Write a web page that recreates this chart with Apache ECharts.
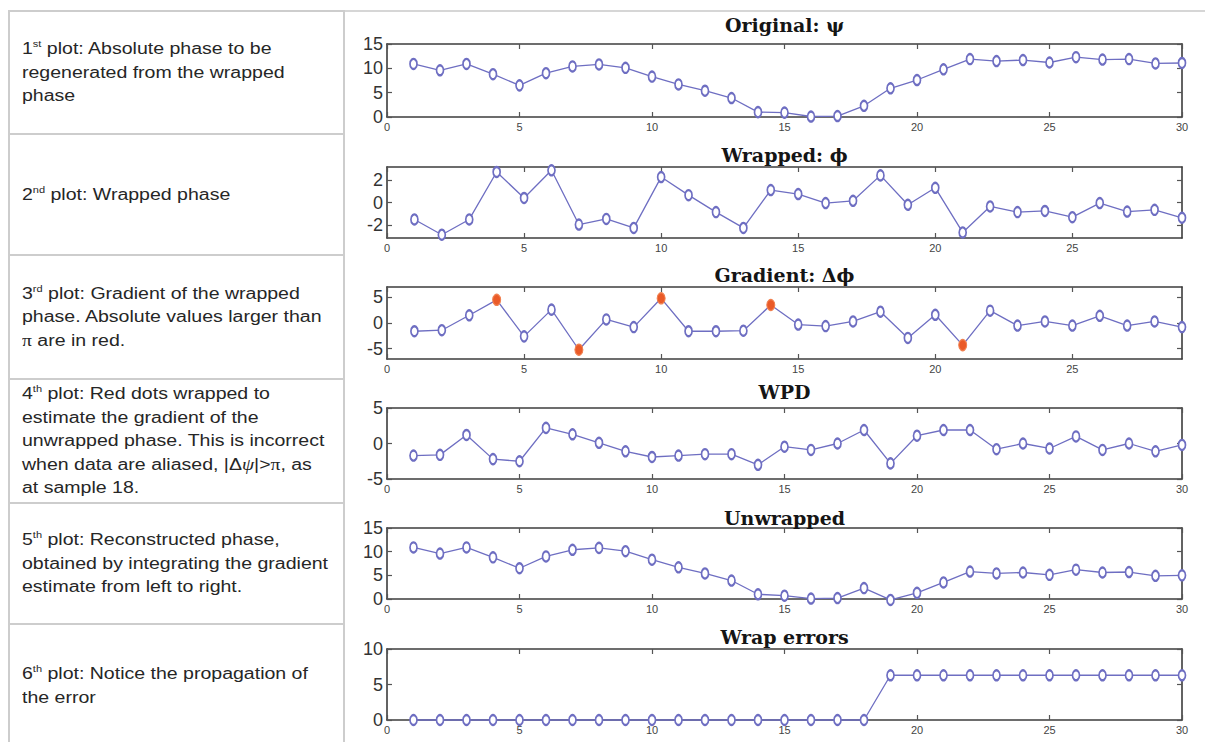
<!DOCTYPE html>
<html>
<head>
<meta charset="utf-8">
<title>Phase unwrapping</title>
<script src="https://cdn.jsdelivr.net/npm/echarts@6/dist/echarts.min.js"></script>
<style>
  html, body { margin: 0; padding: 0; background: #fff; }
  body { width: 1205px; height: 742px; position: relative; overflow: hidden; }
  .cell {
    position: absolute; left: 8px; width: 337px; box-sizing: border-box;
    border: 2px solid #cdcdcd; border-bottom: none;
    display: flex; align-items: center; padding-left: 12px;
  }
  .txt {
    font-family: "Liberation Sans", Arial, sans-serif; font-size: 16px; line-height: 23.6px;
    color: #262626; white-space: nowrap; transform: scaleX(1.22); transform-origin: 0 50%;
  }
  .txt sup { font-size: 9px; vertical-align: 7px; line-height: 0; }
  .gr { font-family: "Liberation Serif", "Times New Roman", serif; }
  .frame { position: absolute; left: 344px; top: 10px; width: 861px; border-top: 2px solid #d6d6d6; }
  #main { position: absolute; left: 346px; top: 0; width: 859px; height: 742px; }
</style>
</head>
<body>
<div class="frame"></div>
<div class="cell" style="top:10px;height:123px"><div class="txt">1<sup>st</sup> plot: Absolute phase to be<br>regenerated from the wrapped<br>phase</div></div>
<div class="cell" style="top:133px;height:121px"><div class="txt">2<sup>nd</sup> plot: Wrapped phase</div></div>
<div class="cell" style="top:254px;height:124px"><div class="txt">3<sup>rd</sup> plot: Gradient of the wrapped<br>phase. Absolute values larger than<br><span class="gr">π</span> are in red.</div></div>
<div class="cell" style="top:378px;height:124px"><div class="txt">4<sup>th</sup> plot: Red dots wrapped to<br>estimate the gradient of the<br>unwrapped phase. This is incorrect<br>when data are aliased, |Δ<i class="gr">ψ</i>|&gt;<span class="gr">π</span>, as<br>at sample 18.</div></div>
<div class="cell" style="top:502px;height:121px"><div class="txt">5<sup>th</sup> plot: Reconstructed phase,<br>obtained by integrating the gradient<br>estimate from left to right.</div></div>
<div class="cell" style="top:623px;height:124px"><div class="txt">6<sup>th</sup> plot: Notice the propagation of<br>the error</div></div>
<div id="main"></div>
<script>
  // values, one entry per sample (sample n = index + 1)
  const original = [10.9, 9.6, 10.9, 8.8, 6.5, 9.0, 10.4, 10.8, 10.1, 8.3, 6.7, 5.4, 3.9, 1.0,
    0.9, 0.1, 0.2, 2.3, 5.9, 7.6, 9.8, 11.9, 11.5, 11.7, 11.2, 12.3, 11.8, 11.9, 11.0, 11.1]
  const wrapped = [-1.5, -2.85, -1.5, 2.7, 0.4, 2.85, -1.95, -1.45, -2.25, 2.25, 0.65, -0.85, -2.25, 1.1,
    0.75, -0.05, 0.15, 2.4, -0.2, 1.3, -2.65, -0.35, -0.85, -0.75, -1.3, -0.05, -0.8, -0.65, -1.35]
  const gradient = [-1.6, -1.4, 1.5, 4.5, -2.6, 2.6, -5.2, 0.7, -0.8, 4.8, -1.6, -1.6, -1.5, 3.5,
    -0.3, -0.6, 0.3, 2.2, -2.9, 1.6, -4.3, 2.4, -0.5, 0.3, -0.5, 1.4, -0.5, 0.3, -0.8]
  const wpd = [-1.7, -1.6, 1.2, -2.2, -2.5, 2.2, 1.3, 0.1, -1.1, -1.9, -1.7, -1.5, -1.5, -3.0,
    -0.45, -0.9, 0.0, 1.9, -2.8, 1.1, 1.9, 1.9, -0.8, 0.0, -0.7, 1.0, -0.9, 0.0, -1.1, -0.2]
  const unwrapped = [10.9, 9.6, 10.9, 8.8, 6.5, 9.0, 10.4, 10.8, 10.1, 8.3, 6.7, 5.4, 3.9, 1.0,
    0.7, 0.1, 0.2, 2.3, -0.2, 1.3, 3.5, 5.8, 5.4, 5.6, 5.1, 6.2, 5.6, 5.7, 4.9, 5.0]
  const wrapErrors = [0, 0, 0, 0, 0, 0, 0, 0, 0, 0, 0, 0, 0, 0, 0, 0, 0, 0,
    6.3, 6.3, 6.3, 6.3, 6.3, 6.3, 6.3, 6.3, 6.3, 6.3, 6.3, 6.3]

  const titles = ['Original: ψ', 'Wrapped: ϕ', 'Gradient: Δϕ', 'WPD', 'Unwrapped', 'Wrap errors']
  const seriesList = [original, wrapped, gradient, wpd, unwrapped, wrapErrors]
  const yMin = [0, -Math.PI, -7, -5, 0, 0]
  const yMax = [15, Math.PI, 7, 5, 15, 10]
  const yTicks = [[0, 5, 10, 15], [-2, 0, 2], [-5, 0, 5], [-5, 0, 5], [0, 5, 10, 15], [0, 5, 10]]
  const xMax = [30, 29, 29, 30, 30, 30]
  const xTicks = [0, 5, 10, 15, 20, 25, 30]

  // layout of the six panels (px inside #main)
  const gridTops = [44, 167, 287, 408, 528, 649]
  const gridHeights = [73, 71, 72, 71, 71, 71]
  const titleCenters = [25, 155, 275, 392, 518, 637]
  const plotLeft = 41
  const plotWidth = 795

  const lineColor = '#6e6ec2'
  const redColor = '#ea5a28'
  const boxColor = '#3c3c3c'

  let chart = echarts.init(document.getElementById('main'), null, { renderer: 'svg' })

  let grid = []
  let xAxis = []
  let yAxis = []
  let series = []
  let title = []

  seriesList.forEach((values, i) => {
    grid.push({ left: plotLeft, top: gridTops[i], width: plotWidth, height: gridHeights[i] })
    title.push({
      text: titles[i],
      left: plotLeft + plotWidth / 2,
      top: titleCenters[i] - 11,
      textAlign: 'center',
      padding: 0,
      textStyle: { fontFamily: 'DejaVu Serif', fontWeight: 'bold', fontSize: 19, lineHeight: 22, color: '#151515' },
    })
    let xt = xTicks.filter(v => v <= xMax[i])
    let box = { show: true, onZero: false, lineStyle: { color: boxColor, width: 1.6 } }
    let tick = { show: true, inside: true, length: 5, lineStyle: { color: '#555', width: 1.2 } }
    xAxis.push({
      type: 'value', gridIndex: i, min: 0, max: xMax[i], position: 'bottom',
      axisLine: box,
      axisTick: Object.assign({}, tick, { customValues: xt }),
      axisLabel: { customValues: xt, fontSize: 11, color: '#444', margin: 4, fontFamily: 'Liberation Sans' },
      splitLine: { show: false },
    })
    xAxis.push({
      type: 'value', gridIndex: i, min: 0, max: xMax[i], position: 'top',
      axisLine: box,
      axisTick: Object.assign({}, tick, { customValues: xt }),
      axisLabel: { show: false },
      splitLine: { show: false },
    })
    yAxis.push({
      type: 'value', gridIndex: i, min: yMin[i], max: yMax[i], position: 'left',
      axisLine: box,
      axisTick: Object.assign({}, tick, { customValues: yTicks[i] }),
      axisLabel: { customValues: yTicks[i], fontSize: 18, color: '#333', margin: 4, fontFamily: 'Liberation Sans' },
      splitLine: { show: false },
    })
    yAxis.push({
      type: 'value', gridIndex: i, min: yMin[i], max: yMax[i], position: 'right',
      axisLine: box,
      axisTick: Object.assign({}, tick, { customValues: yTicks[i] }),
      axisLabel: { show: false },
      splitLine: { show: false },
    })
    series.push({
      type: 'line',
      xAxisIndex: 2 * i,
      yAxisIndex: 2 * i,
      clip: false,
      symbol: 'emptyCircle',
      symbolSize: [7, 10],
      lineStyle: { color: lineColor, width: 1.3 },
      itemStyle: { color: lineColor, borderWidth: 1.2 },
      data: values.map((v, k) => {
        // gradient panel: |value| > pi drawn as filled red dots
        if (i === 2 && Math.abs(v) > Math.PI) {
          return { value: [k + 1, v], symbol: 'circle', symbolSize: [8, 11], itemStyle: { color: redColor, borderColor: '#f08050' } }
        }
        return [k + 1, v]
      }),
    })
  })

  chart.setOption({
    animation: false,
    backgroundColor: 'transparent',
    title: title,
    grid: grid,
    xAxis: xAxis,
    yAxis: yAxis,
    series: series,
  })
</script>
</body>
</html>
